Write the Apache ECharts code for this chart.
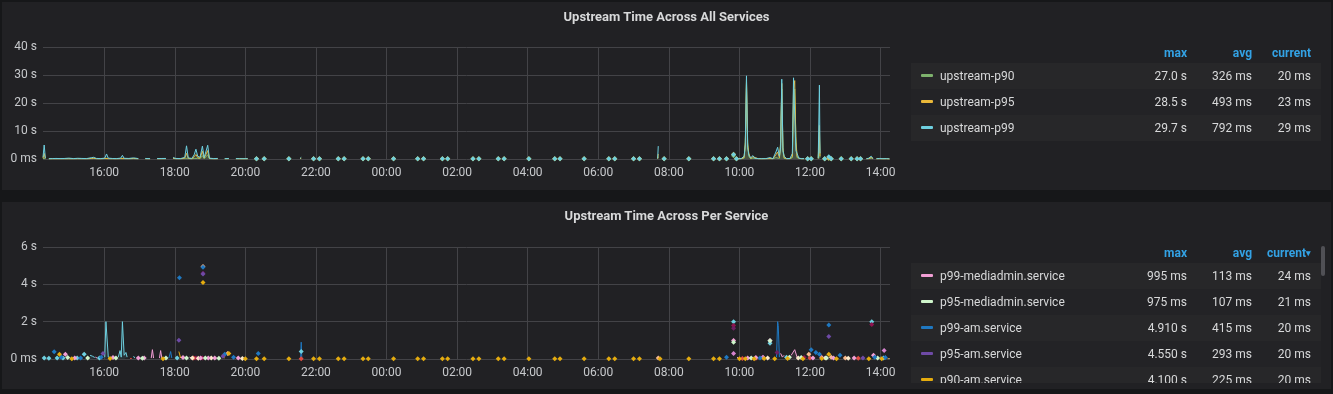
<!DOCTYPE html>
<html>
<head>
<meta charset="utf-8">
<script src="https://cdn.jsdelivr.net/npm/echarts@6/dist/echarts.min.js"></script>
<style>
  html, body { margin:0; padding:0; background:#161719; width:1333px; height:394px; overflow:hidden; font-family: Roboto, "Noto Sans", sans-serif; }
  .panel { position:absolute; background:#212124; }
  .title { position:absolute; left:2px; width:1329px; text-align:center; color:#d8d9da; font-size:13px; font-weight:bold; height:18px; line-height:18px; z-index:3; }
  #chart { position:absolute; left:0; top:0; width:1333px; height:394px; z-index:2; }
  .legend { position:absolute; left:911px; width:410px; overflow:hidden; z-index:3; }
  .hdr { position:absolute; top:0; height:18px; line-height:18px; color:#33a2e5; font-size:12px; font-weight:bold; text-align:right; }
  .row { position:absolute; left:0; width:410px; height:26px; }
  .row.odd { background:#272729; }
  .row.even { background:#232326; }
  .sw { position:absolute; left:10px; top:11px; width:12px; height:3px; border-radius:1px; }
  .lbl { position:absolute; left:29px; top:0; line-height:26px; color:#d8d9da; font-size:12px; white-space:nowrap; }
  .val { position:absolute; top:0; line-height:26px; color:#d8d9da; font-size:12px; text-align:right; white-space:nowrap; }
  .scroll { position:absolute; left:1321px; top:246px; width:4px; height:30px; background:#505055; border-radius:2px; z-index:4; }
</style>
</head>
<body>
<div class="panel" style="left:2px;top:2px;width:1329px;height:188px"></div>
<div class="panel" style="left:2px;top:202px;width:1329px;height:187px"></div>
<div class="title" style="top:8px">Upstream Time Across All Services</div>
<div class="title" style="top:207px">Upstream Time Across Per Service</div>
<div id="chart"></div>
<div class="legend" id="legTop" style="top:44px;height:100px"></div>
<div class="legend" id="legBot" style="top:244px;height:139px"></div>
<div class="scroll"></div>
<script>
const _ = null;

// ---------- Top panel: upstream percentiles (seconds) ----------
const topTimes = [
 "14:16","14:18","14:20","14:23","14:26","14:32","14:38","14:45","14:52","15:00",
 "15:08","15:15","15:22","15:30","15:38","15:42","15:47","15:54","16:01","16:04",
 "16:07","16:14","16:21","16:28","16:31","16:34","16:42","16:50","16:58","17:05",
 "17:10","17:18","17:24","17:30","17:38","17:45","17:52","17:57","18:02","18:10",
 "18:17","18:20","18:23","18:29","18:33","18:36","18:39","18:43","18:47","18:50",
 "18:53","18:56","18:59","19:06","19:13","19:20","19:25","19:32","19:40","19:44",
 "19:50","19:56","20:04","20:08",
 "20:19","20:21","20:32","20:34","21:14","21:16","21:33","21:35","21:37","21:56",
 "21:58","22:06","22:08","22:38","22:40","22:48","22:50","23:20","23:22","23:29",
 "23:31","00:12","00:14","00:53","00:55","01:03","01:05","01:35","01:37","01:44",
 "01:46","02:27","02:29","02:37","02:39","03:10","03:12","03:20","03:22","04:02",
 "04:04","04:46","04:48","04:55","04:57","05:36","05:38","06:18","06:20","06:28",
 "06:30","07:00","07:02","07:10","07:12","07:41","07:42","07:43","07:52","07:54",
 "08:34","08:36","09:16","09:18","09:26","09:28","09:38","09:40","09:50","09:52",
 "09:55","09:57",
 "09:58","10:03","10:08","10:10","10:12","10:14","10:16","10:19","10:23","10:26",
 "10:32","10:38","10:45","10:52","10:57","11:02","11:05","11:08","11:10","11:12",
 "11:14","11:16","11:20","11:26","11:30","11:32","11:34","11:36","11:38","11:41",
 "11:46","11:50","11:53","11:56","11:58","12:02","12:04","12:14","12:16","12:17",
 "12:19","12:25","12:27","12:32","12:34","12:36","12:38","12:53","12:55","13:10",
 "13:12","13:20","13:22","13:26","13:28","13:36","13:40","13:44","13:47","13:50",
 "13:53","13:58","14:04","14:10","14:15"
];
const topP90 = [
 0.2,0.8,0.1,_,0.05,0.06,0.05,0.07,0.05,0.06,
 0.05,0.08,0.06,0.05,0.1,0.15,0.06,0.05,0.1,0.4,
 0.08,0.06,0.05,0.1,0.3,0.08,0.06,0.1,0.05,_,
 0.06,0.05,_,0.06,0.05,0.07,_,0.2,0.06,0.05,
 0.1,0.8,0.1,0.05,0.2,0.6,0.2,0.1,1.2,0.1,
 0.2,1.5,0.1,0.05,0.06,_,0.05,0.06,_,0.05,
 0.05,0.04,0.05,_,
 0.05,_,0.05,_,0.05,_,0.1,0.2,_,0.05,
 _,0.05,_,0.05,_,0.05,_,0.05,_,0.05,
 _,0.05,_,0.05,_,0.05,_,0.05,_,0.05,
 _,0.05,_,0.05,_,0.05,_,0.05,_,0.05,
 _,0.05,_,0.05,_,0.05,_,0.05,_,0.05,
 _,0.05,_,0.05,_,0.1,0.8,_,0.05,_,
 0.05,_,0.05,_,0.05,_,0.05,_,1.2,_,
 0.05,_,
 0.05,0.06,0.3,5,27,6,1,0.1,0.3,0.1,
 0.06,0.05,0.06,0.1,0.05,0.5,1.0,0.2,6,25,
 3,0.2,0.05,0.06,0.5,20,25,8,0.5,0.1,
 0.05,0.06,_,0.05,_,0.05,_,0.1,8,0.5,
 _,0.05,_,0.2,_,0.05,_,0.05,_,0.05,
 _,0.05,_,0.05,_,0.05,0.1,0.3,0.1,_,
 0.05,0.06,0.04,0.05,0.02
];
const topP95 = [
 0.3,2.0,0.2,_,0.08,0.1,0.08,0.1,0.09,0.1,
 0.08,0.12,0.1,0.09,0.2,0.3,0.1,0.08,0.2,0.9,
 0.12,0.1,0.08,0.15,0.6,0.12,0.1,0.18,0.08,_,
 0.1,0.08,_,0.1,0.09,0.12,_,0.3,0.1,0.1,
 0.3,2.0,0.2,0.1,0.8,1.6,0.5,0.3,2.8,0.3,
 0.6,3.0,0.2,0.08,0.1,_,0.08,0.1,_,0.08,
 0.07,0.06,0.08,_,
 0.07,_,0.07,_,0.07,_,0.15,0.3,_,0.07,
 _,0.07,_,0.07,_,0.07,_,0.07,_,0.07,
 _,0.07,_,0.07,_,0.07,_,0.07,_,0.07,
 _,0.07,_,0.07,_,0.07,_,0.07,_,0.07,
 _,0.07,_,0.07,_,0.07,_,0.07,_,0.07,
 _,0.07,_,0.07,_,0.15,1.8,_,0.07,_,
 0.07,_,0.07,_,0.07,_,0.07,_,1.7,_,
 0.07,_,
 0.08,0.1,0.6,6,28.5,5,2,0.2,0.8,0.15,
 0.1,0.08,0.1,0.2,0.08,1.5,2.5,0.5,5,27,
 4,0.5,0.1,0.1,1.0,25,28,6,1.0,0.2,
 0.08,0.1,_,0.07,_,0.07,_,0.2,12,1,
 _,0.07,_,0.4,_,0.07,_,0.07,_,0.07,
 _,0.07,_,0.07,_,0.08,0.15,0.6,0.15,_,
 0.07,0.1,0.07,0.08,0.023
];
const topP99 = [
 0.6,5.0,0.3,_,0.12,0.15,0.2,0.15,0.18,0.3,
 0.15,0.25,0.2,0.15,0.45,0.6,0.2,0.15,0.3,1.8,
 0.3,0.18,0.15,0.3,1.3,0.25,0.2,0.4,0.15,_,
 0.2,0.12,_,0.15,0.18,0.2,_,0.5,0.2,0.15,
 0.6,4.7,0.4,0.2,1.5,3.5,1.0,0.6,4.6,0.5,
 1.0,4.9,0.3,0.15,0.2,_,0.12,0.2,_,0.15,
 0.12,0.1,0.12,_,
 0.1,_,0.1,_,0.1,_,0.2,0.6,_,0.1,
 _,0.1,_,0.1,_,0.1,_,0.1,_,0.1,
 _,0.1,_,0.1,_,0.1,_,0.1,_,0.1,
 _,0.1,_,0.1,_,0.1,_,0.1,_,0.1,
 _,0.1,_,0.1,_,0.1,_,0.1,_,0.1,
 _,0.1,_,0.1,_,0.2,4.6,_,0.1,_,
 0.1,_,0.1,_,0.1,_,0.1,_,1.6,_,
 0.1,_,
 0.1,0.15,1.0,5,29.7,4,1.5,0.4,1.2,0.3,
 0.15,0.12,0.15,0.5,0.12,2.5,4.2,1.0,4,28.5,
 3,1.0,0.15,0.2,2.0,29,29.3,3,2.0,0.3,
 0.12,0.15,_,0.1,_,0.1,_,0.3,26.4,2,
 _,0.1,_,0.8,_,0.1,_,0.1,_,0.1,
 _,0.1,_,0.1,_,0.1,0.3,1.0,0.2,_,
 0.1,0.2,0.1,0.15,0.029
];
const topNames = ["upstream-p90","upstream-p95","upstream-p99"];
const topColors = ["#7eb26d","#eab839","#6ed0e0"];
const topMax = ["27.0 s","28.5 s","29.7 s"];
const topAvg = ["326 ms","493 ms","792 ms"];
const topCur = ["20 ms","23 ms","29 ms"];

// ---------- Bottom panel: per service (seconds) ----------
const p99Mediadmin = [
 ["14:54",0.25],["14:57",_],["15:10",0.05],["15:13",_],["15:45",0.1],["15:48",0.05],["15:51",_],
 ["16:15",0.08],["16:18",_],["16:58",0.05],["17:01",_],["17:08",0.06],["17:11",_],
 ["17:20",0.05],["17:22",0.5],["17:24",0.05],["17:27",_],["17:34",0.05],["17:36",0.45],["17:38",0.05],["17:41",_],
 ["18:14",0.08],["18:17",_],["18:25",0.1],["18:28",0.06],["18:31",_],["18:44",0.05],["18:47",_],
 ["18:57",0.06],["19:00",_],["19:08",0.05],["19:11",_],["19:48",0.05],["19:51",_],
 ["09:50",0.995],["09:53",_],["09:56",0.1],["09:58",0.05],["10:01",_],["10:14",0.06],["10:17",_],
 ["10:28",0.08],["10:31",_],["10:40",0.2],["10:43",0.08],["10:46",_],["10:52",0.99],["10:55",_],
 ["11:10",0.3],["11:13",0.1],["11:16",0.2],["11:19",_],
 ["11:28",0.2],["11:31",0.3],["11:34",0.5],["11:36",0.4],["11:38",0.1],["11:41",_],
 ["12:05",0.06],["12:08",_],["12:20",0.08],["12:23",_],["12:40",0.05],["12:43",_],
 ["13:15",0.05],["13:18",_],["13:48",0.2],["13:51",_],["14:00",0.1],["14:03",0.06],["14:06",_],
 ["14:13",0.024],["14:15",0.024]
];
const p95Mediadmin = [
 ["14:58",0.08],["15:01",_],["15:32",0.05],["15:35",_],["16:20",0.05],["16:23",_],["17:05",0.04],["17:08",_],
 ["17:45",0.05],["17:48",_],["18:20",0.06],["18:23",_],["18:52",0.05],["18:55",_],["19:15",0.04],["19:18",_],
 ["09:50",0.9],["09:53",_],["10:20",0.05],["10:23",_],["10:52",0.975],["10:55",_],["11:25",0.1],["11:28",_],
 ["11:45",0.08],["11:48",_],["12:28",0.05],["12:31",_],["13:55",0.05],["13:58",_],["14:12",0.021],["14:15",0.021]
];
const p99Am = [
 ["14:35",0.39],["14:38",_],["14:47",0.1],["14:50",_],["15:20",0.06],["15:23",_],["15:55",0.1],["15:58",_],
 ["17:50",0.05],["17:53",0.4],["17:55",0.05],["17:58",_],["18:08",4.35],["18:11",_],["18:48",4.91],["18:51",_],
 ["19:25",0.25],["19:28",_],["19:40",0.1],["19:43",_],["20:22",0.3],["20:25",_],
 ["21:34",0.05],["21:35",0.9],["21:36",0.05],["21:38",_],
 ["09:38",0.1],["09:41",_],["10:35",0.05],["10:38",_],
 ["11:03",0.1],["11:05",2.0],["11:06",1.8],["11:08",0.1],["11:11",_],
 ["12:02",0.5],["12:05",_],["12:10",0.35],["12:13",_],["12:16",0.25],["12:19",_],["12:32",1.82],["12:35",_],
 ["12:51",0.2],["12:54",_],["13:50",0.1],["13:53",_],["14:08",0.08],["14:11",_],["14:13",0.02],["14:15",0.02]
];
const p95Am = [
 ["15:58",0.3],["16:01",_],["18:07",1.0],["18:10",_],["18:48",4.55],["18:51",_],["19:22",0.15],["19:25",_],
 ["12:32",1.2],["12:35",_],["13:30",0.05],["13:33",_],["14:13",0.02],["14:15",0.02]
];
const p90Am = [
 ["14:44",0.25],["14:47",_],["15:05",0.02],["15:08",_],["16:10",0.03],["16:13",_],["17:40",0.02],["17:43",_],
 ["18:07",0.4],["18:10",0.05],["18:13",_],["18:48",4.1],["18:51",_],["19:20",0.2],["19:25",0.05],["19:28",_],
 ["19:32",0.3],["19:35",_],["20:00",0.02],["20:03",_],
 ["20:19",0.02],["20:21",_],["20:32",0.02],["20:34",_],["21:14",0.02],["21:16",_],["21:56",0.02],["21:58",_],
 ["22:06",0.02],["22:08",_],["22:38",0.02],["22:40",_],["22:48",0.02],["22:50",_],["23:20",0.02],["23:22",_],
 ["23:29",0.02],["23:31",_],["00:12",0.02],["00:14",_],["00:53",0.02],["00:55",_],["01:03",0.02],["01:05",_],
 ["01:35",0.02],["01:37",_],["01:44",0.02],["01:46",_],["02:27",0.02],["02:29",_],["02:37",0.02],["02:39",_],
 ["03:10",0.02],["03:12",_],["03:20",0.02],["03:22",_],["04:02",0.02],["04:04",_],["04:46",0.02],["04:48",_],
 ["04:55",0.02],["04:57",_],["05:36",0.02],["05:38",_],["06:18",0.02],["06:20",_],["06:28",0.02],["06:30",_],
 ["07:00",0.02],["07:02",_],["07:10",0.02],["07:12",_],["07:45",0.02],["07:47",_],["08:34",0.02],["08:36",_],
 ["09:16",0.02],["09:18",_],["09:26",0.02],["09:28",_],["10:00",0.02],["10:02",_],["10:10",0.02],["10:12",_],
 ["10:25",0.02],["10:27",_],["10:42",0.03],["10:44",_],["11:00",0.02],["11:02",_],["11:22",0.03],["11:24",_],
 ["11:48",0.02],["11:50",_],["12:20",0.03],["12:22",_],["12:32",0.25],["12:35",_],["12:45",0.02],["12:47",_],
 ["13:40",0.02],["13:42",_],["14:02",0.02],["14:04",_],["14:13",0.02],["14:15",0.02]
];
const cyanSvc = [
 ["14:18",0.05],["14:21",_],["14:26",0.04],["14:29",_],["14:40",0.06],["14:43",_],["14:50",0.05],["14:53",_],
 ["15:02",0.04],["15:05",0.05],["15:08",_],["15:14",0.05],["15:17",_],["15:26",0.25],["15:29",_],
 ["15:36",0.2],["15:40",0.15],["15:44",0.08],["15:47",_],["15:52",0.06],["15:55",_],
 ["16:01",0.1],["16:03",2.0],["16:05",2.0],["16:07",0.1],["16:10",0.05],["16:13",_],
 ["16:24",0.1],["16:27",0.45],["16:29",0.1],["16:31",2.0],["16:32",2.0],["16:34",0.2],["16:37",0.35],["16:39",0.1],["16:42",_],
 ["16:50",0.15],["16:52",0.05],["16:55",_],["18:04",0.05],["18:07",_],["21:35",0.4],["21:37",_],
 ["09:50",2.0],["09:53",_],["10:52",0.85],["10:55",_],["11:20",0.1],["11:23",_],["13:45",2.0],["13:48",_],
 ["14:05",0.05],["14:08",_]
];
const maroonSvc = [
 ["18:36",0.05],["18:39",_],["18:47",0.06],["18:50",_],["09:50",1.8],["09:53",_],["11:50",0.08],["11:53",_],["13:45",1.85],["13:48",_]
];
const plumSvc = [
 ["18:48",4.6],["18:51",_],["09:50",1.65],["09:53",_],["11:04",0.35],["11:07",_]
];
const redSvc = [
 ["16:44",0.03],["16:47",0.03],["16:50",_],["18:32",0.05],["18:35",_],["21:35",0.02],["21:38",_],
 ["10:05",0.03],["10:08",_],["10:28",0.04],["10:31",_],["12:00",0.05],["12:03",_],["13:22",0.04],["13:25",_]
];
const peachSvc = [
 ["18:48",4.95],["18:51",_],["19:30",0.3],["19:33",_],["07:42",0.05],["07:44",_],["11:58",0.25],["12:01",_],
 ["12:36",0.1],["12:39",_],["13:00",0.05],["13:03",_]
];
const lavenderSvc = [
 ["09:50",0.3],["09:53",_],["10:40",0.1],["10:43",_],["14:06",0.45],["14:09",_]
];
const creamSvc = [
 ["18:30",0.05],["18:33",_],["18:40",0.04],["18:43",_],["19:02",0.05],["19:05",_],["19:55",0.03],["19:58",_],
 ["10:48",0.05],["10:51",_],["11:40",0.06],["11:43",_],["12:26",0.05],["12:29",_],["13:05",0.04],["13:08",_]
];
const botNames = ["p99-mediadmin.service","p95-mediadmin.service","p99-am.service","p95-am.service","p90-am.service"];
const botColors = ["#f29fd5","#cff5cb","#1f78c1","#6e4aa6","#e5ac0e"];
const botMax = ["995 ms","975 ms","4.910 s","4.550 s","4.100 s"];
const botAvg = ["113 ms","107 ms","415 ms","293 ms","225 ms"];
const botCur = ["24 ms","21 ms","20 ms","20 ms","20 ms"];
const extraColors = ["#6ed0e0","#8f1450","#6d1f62","#e24d42","#f9ba8f","#d683ce","#fceaca"];

// ---------- helpers ----------
function ts(hhmm) {
  const p = hhmm.split(':').map(Number);
  const day = (p[0] * 60 + p[1] < 14 * 60 + 16) ? 1 : 0;
  return new Date(2020, 5, 1 + day, p[0], p[1]).getTime();
}
const tMin = new Date(2020, 5, 1, 14, 16).getTime();
const tMax = new Date(2020, 5, 2, 14, 16).getTime();

function isolatedSize(data, size) {
  return function (val, params) {
    const i = params.dataIndex;
    if (data[i][1] == null) return 0;
    const prev = i > 0 ? data[i - 1][1] : null;
    const next = i < data.length - 1 ? data[i + 1][1] : null;
    return (prev == null && next == null) ? size : 0;
  };
}
function mkSeries(name, color, data, xi, opacity) {
  return {
    name: name, type: 'line', xAxisIndex: xi, yAxisIndex: xi, data: data,
    showSymbol: true, symbol: 'diamond', symbolSize: isolatedSize(data, 5),
    lineStyle: { width: 1, color: color }, itemStyle: { color: color },
    areaStyle: { color: color, opacity: opacity },
    connectNulls: false, silent: true, animation: false, clip: true
  };
}
function fmtY(v) { return v === 0 ? '0 ms' : v + ' s'; }

const axisLabelColor = '#c7c9cc';
const gridLineColor = '#434347';
function xAxisCfg(gi) {
  return {
    type: 'time', gridIndex: gi, min: tMin, max: tMax,
    minInterval: 3 * 3600 * 1000, maxInterval: 3 * 3600 * 1000, splitNumber: 8,
    axisLine: { show: false }, axisTick: { show: false },
    axisLabel: { formatter: '{HH}:{mm}', color: axisLabelColor, fontSize: 12, fontFamily: 'Roboto', margin: 8,
                 showMinLabel: false, showMaxLabel: false, hideOverlap: false },
    splitLine: { show: true, showMinLine: false, showMaxLine: false, lineStyle: { color: gridLineColor, width: 1 } }
  };
}
function yAxisCfg(gi, max, interval) {
  return {
    type: 'value', gridIndex: gi, min: 0, max: max, interval: interval,
    axisLine: { show: false }, axisTick: { show: false },
    axisLabel: { formatter: fmtY, color: axisLabelColor, fontSize: 12, fontFamily: 'Roboto', margin: 6 },
    splitLine: { show: true, lineStyle: { color: gridLineColor, width: 1 } }
  };
}

const topSeriesVals = [topP90, topP95, topP99];
const series = [];
topSeriesVals.forEach(function (vals, k) {
  const data = topTimes.map(function (t, i) { return [ts(t), vals[i]]; });
  series.push(mkSeries(topNames[k], topColors[k], data, 0, 0.12));
});
function conv(arr) { return arr.map(function (p) { return [ts(p[0]), p[1]]; }); }
const extras = [cyanSvc, maroonSvc, plumSvc, redSvc, peachSvc, lavenderSvc, creamSvc];
extras.forEach(function (arr, k) {
  series.push(mkSeries('svc-' + k, extraColors[k], conv(arr), 1, 0.1));
});
const botArrs = [p99Mediadmin, p95Mediadmin, p99Am, p95Am, p90Am];
botArrs.forEach(function (arr, k) {
  series.push(mkSeries(botNames[k], botColors[k], conv(arr), 1, 0.1));
});

const chart = echarts.init(document.getElementById('chart'), null, { renderer: 'canvas' });
chart.setOption({
  animation: false,
  backgroundColor: 'transparent',
  textStyle: { fontFamily: 'Roboto' },
  grid: [
    { left: 43, top: 47, width: 847, height: 112 },
    { left: 43, top: 247, width: 847, height: 112 }
  ],
  xAxis: [xAxisCfg(0), xAxisCfg(1)],
  yAxis: [yAxisCfg(0, 40, 10), yAxisCfg(1, 6, 2)],
  series: series
});

function buildLegend(el, names, colors, maxs, avgs, curs, sortCol) {
  let h = '';
  h += '<div class="hdr" style="right:134px">max</div>';
  h += '<div class="hdr" style="right:69px">avg</div>';
  h += '<div class="hdr" style="right:10px">current' + (sortCol ? '<span style="font-size:9px;position:relative;top:-1px">&#9662;</span>' : '') + '</div>';
  names.forEach(function (n, i) {
    const top = 19 + i * 26;
    h += '<div class="row ' + (i % 2 === 0 ? 'odd' : 'even') + '" style="top:' + top + 'px">' +
      '<div class="sw" style="background:' + colors[i] + '"></div>' +
      '<div class="lbl">' + n + '</div>' +
      '<div class="val" style="right:134px">' + maxs[i] + '</div>' +
      '<div class="val" style="right:69px">' + avgs[i] + '</div>' +
      '<div class="val" style="right:10px">' + curs[i] + '</div>' +
      '</div>';
  });
  el.innerHTML = h;
}
buildLegend(document.getElementById('legTop'), topNames, topColors, topMax, topAvg, topCur, false);
buildLegend(document.getElementById('legBot'), botNames, botColors, botMax, botAvg, botCur, true);
</script>
</body>
</html>
